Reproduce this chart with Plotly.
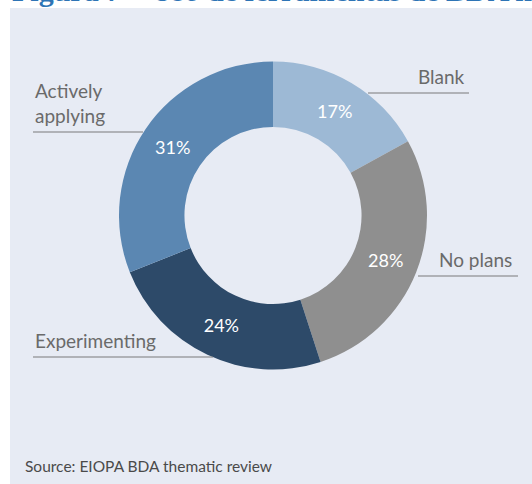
import plotly.graph_objects as go

# Survey shares of BDA tool usage
categories = ["Blank", "No plans", "Experimenting", "Actively applying"]
shares = [17, 28, 24, 31]
slice_colors = ["#9db9d5", "#8f8f8f", "#2d4a69", "#5b87b2"]

W, H = 532, 484
panel_bg = "#e7ebf4"
label_color = "#6a6a6a"
line_color = "#7a7a7a"
font_family = "Lato, 'Open Sans', sans-serif"

# Donut geometry in pixels (centre and outer radius)
cx, cy, R = 273, 215.5, 154


def px(x):
    return x / W


def py(y):
    return 1 - y / H


fig = go.Figure(
    go.Pie(
        labels=categories,
        values=shares,
        sort=False,
        direction="clockwise",
        rotation=0,
        hole=0.575,
        marker=dict(colors=slice_colors, line=dict(width=0)),
        texttemplate="%{value}%",
        textposition="inside",
        insidetextorientation="horizontal",
        textfont=dict(family=font_family, size=18, color="white"),
        showlegend=False,
        hoverinfo="label+percent",
        domain=dict(x=[px(cx - R), px(cx + R)], y=[py(cy + R), py(cy - R)]),
    )
)

shapes = [
    # light panel behind the chart
    dict(type="rect", xref="paper", yref="paper", x0=px(10), x1=1, y0=0, y1=py(8),
         fillcolor=panel_bg, line=dict(width=0), layer="below"),
]

# leader lines under the category labels: (x0, x1, y)
leaders = [
    (368, 469, 93),
    (418, 518, 276),
    (33, 143, 132),
    (33, 213, 357),
]
for x0, x1, y in leaders:
    shapes.append(dict(type="line", xref="paper", yref="paper",
                       x0=px(x0), x1=px(x1), y0=py(y), y1=py(y),
                       line=dict(color=line_color, width=1.2)))

annotations = [
    dict(text="Blank", x=px(467), y=py(90), xanchor="right", yanchor="bottom"),
    dict(text="No plans", x=px(514), y=py(273), xanchor="right", yanchor="bottom"),
    dict(text="Actively<br>applying", x=px(33), y=py(129), xanchor="left", yanchor="bottom",
         align="left"),
    dict(text="Experimenting", x=px(33), y=py(354), xanchor="left", yanchor="bottom"),
]
for a in annotations:
    a.update(xref="paper", yref="paper", showarrow=False,
             font=dict(family=font_family, size=19, color=label_color))

annotations.append(dict(
    text="Source: EIOPA BDA thematic review", x=px(23), y=py(466),
    xref="paper", yref="paper", xanchor="left", yanchor="middle", showarrow=False,
    font=dict(family=font_family, size=15.5, color="#4a4a4a")))

annotations.append(dict(
    text="Figura 7 – Uso de ferramentas de BDA na", x=px(10), y=py(9),
    xref="paper", yref="paper", xanchor="left", yanchor="bottom", showarrow=False,
    font=dict(family="'Liberation Serif', serif", size=30, color="#2e74b5", weight="bold")))

fig.update_layout(
    width=W, height=H,
    margin=dict(l=0, r=0, t=0, b=0),
    paper_bgcolor="white",
    plot_bgcolor="white",
    shapes=shapes,
    annotations=annotations,
)

fig.write_html("out.html", config={"displayModeBar": False})
